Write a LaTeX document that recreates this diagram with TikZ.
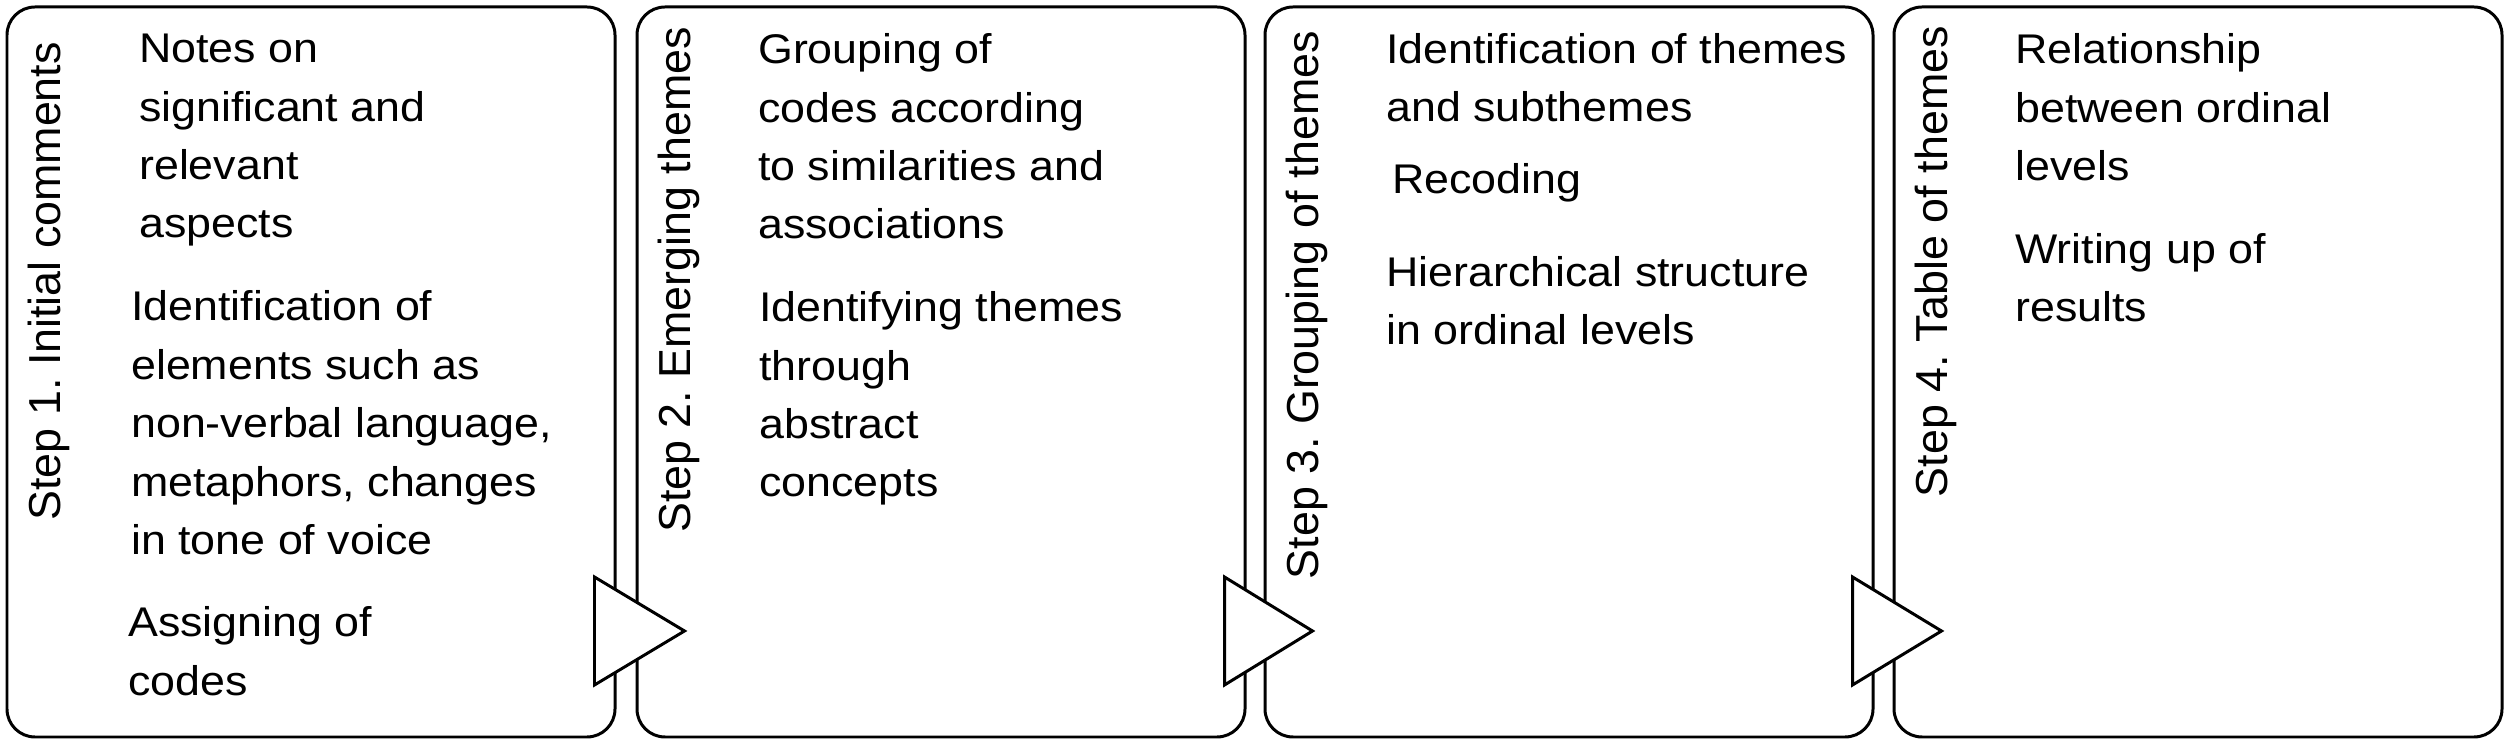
\documentclass[tikz,border=0pt]{standalone}
\usepackage{fontspec}
\setmainfont{Liberation Sans}
\newfontfamily\notefont[FakeStretch=1.08]{Liberation Sans}
\begin{document}
\begin{tikzpicture}[
    stepbox/.style={draw, line width=0.85pt, rounded corners=0.28cm, minimum width=6.08cm, minimum height=7.30cm, inner sep=0pt},
    steplabel/.style={rotate=90, anchor=base east, inner sep=0pt, font=\fontsize{12.75}{15}\selectfont},
    note/.style={anchor=base west, align=left, inner sep=0pt, font=\notefont\fontsize{11.8}{16.63}\selectfont},
    tri/.style={draw, fill=white, line width=0.85pt, line join=miter}]
  \useasboundingbox (0,0) rectangle (25.08,7.45);
  % the four steps
  \node[stepbox] (box1) at (3.11,3.73) {};
  \node[stepbox] (box2) at (9.41,3.73) {};
  \node[stepbox] (box3) at (15.69,3.73) {};
  \node[stepbox] (box4) at (21.98,3.73) {};
  % step titles
  \node[steplabel] (lab1) at ([shift={(0.55,-0.36)}]box1.north west) {Step 1.\ Initial comments};
  \node[steplabel] (lab2) at ([shift={(0.55,-0.21)}]box2.north west) {Step 2.\ Emerging themes};
  \node[steplabel] (lab3) at ([shift={(0.55,-0.25)}]box3.north west) {Step 3.\ Grouping of themes};
  \node[steplabel] (lab4) at ([shift={(0.55,-0.20)}]box4.north west) {Step 4.\ Table of themes};
  % what is done in each step (placed at the baseline of the last line)
  \node[note] (n11) at ([shift={(1.33,-2.325)}]box1.north west) {Notes on\\significant and\\relevant\\aspects};
  \node[note] (n12) at ([shift={(1.25,-5.49)}]box1.north west) {Identification of\\elements such as\\non-verbal language,\\metaphors, changes\\in tone of voice};
  \node[note] (n13) at ([shift={(1.22,-6.895)}]box1.north west) {Assigning of\\codes};
  \node[note] (n21) at ([shift={(1.22,-2.335)}]box2.north west) {Grouping of\\codes according\\to similarities and\\associations};
  \node[note] (n22) at ([shift={(1.23,-4.915)}]box2.north west) {Identifying themes\\through\\abstract\\concepts};
  \node[note] (n31) at ([shift={(1.22,-1.165)}]box3.north west) {Identification of themes\\and subthemes};
  \node[note] (n32) at ([shift={(1.28,-1.88)}]box3.north west) {Recoding};
  \node[note] (n33) at ([shift={(1.22,-3.395)}]box3.north west) {Hierarchical structure\\in ordinal levels};
  \node[note] (n41) at ([shift={(1.22,-1.75)}]box4.north west) {Relationship\\between ordinal\\levels};
  \node[note] (n42) at ([shift={(1.22,-3.165)}]box4.north west) {Writing up of\\results};
  % arrows from one step to the next
  \foreach \a/\b in {box1/box2, box2/box3, box3/box4}
    \draw[tri] ([shift={(-0.22,-2.05)}]\a.east) -- ([shift={(0.49,-2.59)}]\b.west) -- ([shift={(-0.22,-3.13)}]\a.east) -- cycle;
\end{tikzpicture}
\end{document}
